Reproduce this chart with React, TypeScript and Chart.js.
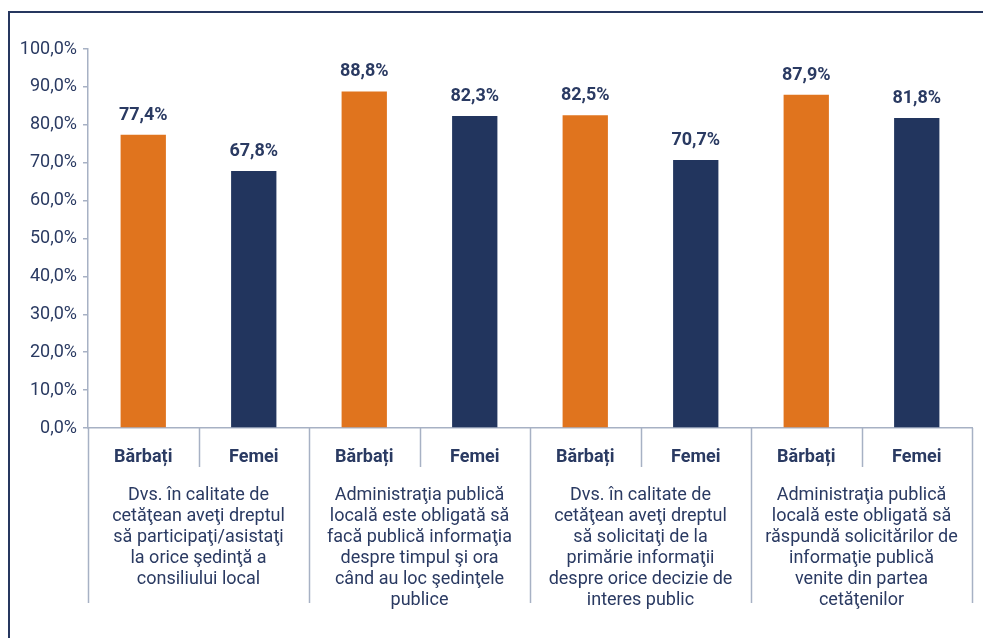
import React, { useEffect, useRef } from "react";
import { Chart, registerables } from "chart.js";

Chart.register(...registerables);

const categories = ["Bărbați", "Femei", "Bărbați", "Femei", "Bărbați", "Femei", "Bărbați", "Femei"];
const values = [77.4, 67.8, 88.8, 82.3, 82.5, 70.7, 87.9, 81.8];
const groupLabels: string[][] = [
  ["Dvs. în calitate de", "cetăţean aveţi dreptul", "să participaţi/asistaţi", "la orice şedinţă a", "consiliului local"],
  ["Administraţia publică", "locală este obligată să", "facă publică informaţia", "despre timpul şi ora", "când au loc şedinţele", "publice"],
  ["Dvs. în calitate de", "cetăţean aveţi dreptul", "să solicitaţi de la", "primărie informaţii", "despre orice decizie de", "interes public"],
  ["Administraţia publică", "locală este obligată să", "răspundă solicitărilor de", "informaţie publică", "venite din partea", "cetăţenilor"],
];
const yTicks = [0, 10, 20, 30, 40, 50, 60, 70, 80, 90, 100];

const ORANGE = "#E0741E";
const NAVY = "#22355E";
const TEXT = "#2A3A62";
const AXIS = "#A7B1C4";
const FONT = "Roboto";

const fmt = (v: number) => v.toFixed(1).replace(".", ",") + "%";

const decorPlugin = {
  id: "decor",
  afterDraw(chart: any) {
    const ctx = chart.ctx;
    const xs = chart.scales.x;
    const axisY = xs.top;
    const n = categories.length;
    const w = (xs.right - xs.left) / n;
    ctx.save();
    // dividers
    ctx.strokeStyle = AXIS;
    ctx.lineWidth = 1.5;
    for (let k = 0; k <= n; k++) {
      const x = Math.round(xs.left + k * w) + 0.5;
      const len = k % 2 === 0 ? 175 : 39;
      ctx.beginPath();
      ctx.moveTo(x, axisY);
      ctx.lineTo(x, axisY + len);
      ctx.stroke();
    }
    // group labels
    ctx.fillStyle = TEXT;
    ctx.font = `18px ${FONT}`;
    ctx.textAlign = "center";
    ctx.textBaseline = "middle";
    groupLabels.forEach((lines, g) => {
      const cx = xs.left + (2 * g + 1) * w;
      lines.forEach((line, i) => {
        ctx.fillText(line, cx, axisY + 67 + i * 21);
      });
    });
    // data labels
    const meta = chart.getDatasetMeta(0);
    ctx.font = `bold 18px ${FONT}`;
    ctx.textBaseline = "alphabetic";
    meta.data.forEach((bar: any, i: number) => {
      ctx.fillText(fmt(values[i]), bar.x, bar.y - 15);
    });
    ctx.restore();
  },
};

export default function App() {
  const ref = useRef<HTMLCanvasElement>(null);
  useEffect(() => {
    if (!ref.current) return;
    const chart = new Chart(ref.current, {
      type: "bar",
      data: {
        labels: categories,
        datasets: [
          {
            data: values,
            backgroundColor: values.map((_, i) => (i % 2 === 0 ? ORANGE : NAVY)),
            categoryPercentage: 1,
            barPercentage: 0.41,
          },
        ],
      },
      options: {
        responsive: false,
        animation: false,
        layout: { padding: { left: 8, right: 11, top: 49, bottom: 0 } },
        plugins: { legend: { display: false }, tooltip: { enabled: false } },
        scales: {
          x: {
            grid: { display: false },
            border: { display: true, color: AXIS, width: 1.5 },
            ticks: { color: TEXT, font: { family: FONT, size: 18, weight: "bold" }, padding: 11, maxRotation: 0 },
            afterFit: (s: any) => {
              s.height = 210;
            },
          },
          y: {
            min: 0,
            max: 100,
            afterBuildTicks: (s: any) => {
              s.ticks = yTicks.map((v) => ({ value: v }));
            },
            grid: { display: true, drawOnChartArea: false, drawTicks: true, tickLength: 5, color: AXIS, lineWidth: 1.5 },
            border: { display: true, color: AXIS, width: 1.5 },
            ticks: { color: TEXT, font: { family: FONT, size: 18 }, padding: 6, callback: (v: any) => fmt(Number(v)) },
            afterFit: (s: any) => {
              s.width = 80;
            },
          },
        },
      },
      plugins: [decorPlugin],
    });
    return () => chart.destroy();
  }, []);
  return (
    <>
      <canvas
        ref={ref}
        width={983}
        height={638}
        style={{ position: "fixed", left: 0, top: 0, width: 983, height: 638, display: "block", background: "#fff" }}
      />
      <div
        style={{
          position: "fixed",
          left: 8,
          top: 11,
          width: 1200,
          height: 1000,
          borderLeft: "2px solid #26375F",
          borderTop: "2px solid #26375F",
          pointerEvents: "none",
        }}
      />
    </>
  );
}
